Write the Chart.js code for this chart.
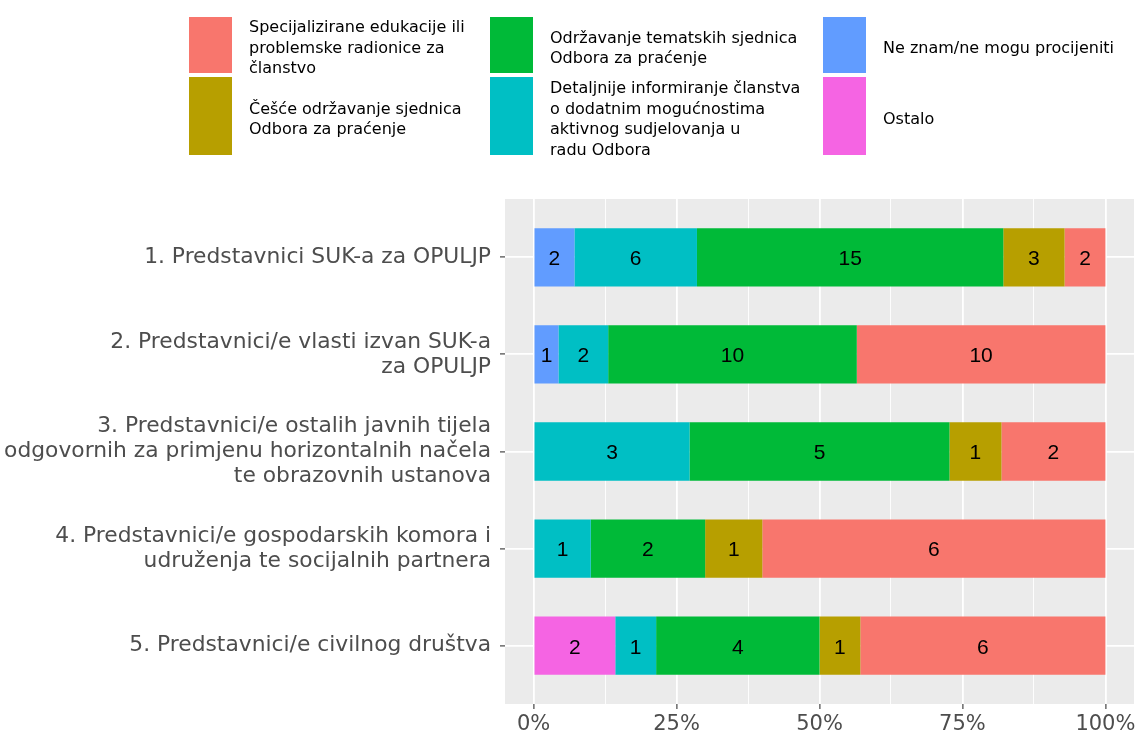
<!DOCTYPE html>
<html lang="hr">
<head>
<meta charset="utf-8">
<title>Prijedlozi za unapređenje rada Odbora</title>
<script src="https://cdn.jsdelivr.net/npm/chart.js@4.4.1/dist/chart.umd.min.js"></script>
<style>
    html, body { margin: 0; padding: 0; background: #fff; }
    #wrap { position: relative; width: 1140px; height: 740px; }
    #chart-box { position: absolute; left: 0; top: 0; width: 1140px; height: 740px; }
    #chart-legend {
        position: absolute; left: 0; top: 0; width: 1140px; height: 170px;
        font-family: 'DejaVu Sans', sans-serif; font-size: 16px; line-height: 20.5px; color: #000;
    }
    .legend-key { position: absolute; width: 43px; }
    .legend-text {
        position: absolute; display: flex; flex-direction: column; justify-content: center;
        white-space: nowrap;
    }
</style>
</head>
<body>
<div id="wrap">
    <div id="chart-box"><canvas id="chart"></canvas></div>
    <div id="chart-legend"></div>
</div>
<script>
// Categories (y axis), top to bottom
const categoryLabels = [
    ['1. Predstavnici SUK-a za OPULJP'],
    ['2. Predstavnici/e vlasti izvan SUK-a', 'za OPULJP'],
    ['3. Predstavnici/e ostalih javnih tijela', 'odgovornih za primjenu horizontalnih načela', 'te obrazovnih ustanova'],
    ['4. Predstavnici/e gospodarskih komora i', 'udruženja te socijalnih partnera'],
    ['5. Predstavnici/e civilnog društva']
];

// Series, in stacking order from left to right
const seriesNames = [
    ['Ostalo'],
    ['Ne znam/ne mogu procijeniti'],
    ['Detaljnije informiranje članstva', 'o dodatnim mogućnostima', 'aktivnog sudjelovanja u', 'radu Odbora'],
    ['Održavanje tematskih sjednica', 'Odbora za praćenje'],
    ['Češće održavanje sjednica', 'Odbora za praćenje'],
    ['Specijalizirane edukacije ili', 'problemske radionice za', 'članstvo']
];
const seriesColors = ['#F564E3', '#619CFF', '#00BFC4', '#00BA38', '#B79F00', '#F8766D'];

// Counts per category (one array per answer)
const ostalo = [0, 0, 0, 0, 2];
const neZnam = [2, 1, 0, 0, 0];
const detaljnije = [6, 2, 3, 1, 1];
const odrzavanje = [15, 10, 5, 2, 4];
const cesce = [3, 0, 1, 1, 1];
const specijalizirane = [2, 10, 2, 6, 6];
const seriesValues = [ostalo, neZnam, detaljnije, odrzavanje, cesce, specijalizirane];

// Legend order (ggplot, column by column) as indexes into the series
const legendOrder = [5, 4, 3, 2, 1, 0];

// x axis ticks (percent)
const xTicks = [0, 25, 50, 75, 100];
const xMinorTicks = [12.5, 37.5, 62.5, 87.5];

const FONT = 'DejaVu Sans';
const totals = categoryLabels.map((_, i) => seriesValues.reduce((s, arr) => s + arr[i], 0));
const isMajor = v => xTicks.includes(v);

function buildLegend() {
    const box = document.getElementById('chart-legend');
    const cols = [189, 490, 823];
    const rows = [{ top: 17, h: 56 }, { top: 77, h: 78 }];
    legendOrder.forEach((k, n) => {
        const col = Math.floor(n / 2), row = rows[n % 2];
        const key = document.createElement('div');
        key.className = 'legend-key';
        key.style.left = cols[col] + 'px';
        key.style.top = row.top + 'px';
        key.style.height = row.h + 'px';
        key.style.background = seriesColors[k];
        box.appendChild(key);

        const txt = document.createElement('div');
        txt.className = 'legend-text';
        txt.style.left = (cols[col] + 60) + 'px';
        txt.style.top = (row.top + 3) + 'px';
        txt.style.height = row.h + 'px';
        txt.innerHTML = '<div>' + seriesNames[k].join('<br>') + '</div>';
        box.appendChild(txt);
    });
}

// Grey ggplot panel behind grid lines
const panelBackground = {
    id: 'panelBackground',
    beforeDraw(chart) {
        const { ctx, chartArea: a } = chart;
        ctx.save();
        ctx.fillStyle = '#EBEBEB';
        ctx.fillRect(a.left, a.top, a.right - a.left, a.bottom - a.top);
        ctx.restore();
    }
};

// Count labels centred in each segment
const countLabels = {
    id: 'countLabels',
    afterDatasetsDraw(chart) {
        const ctx = chart.ctx;
        ctx.save();
        ctx.font = '21px "Liberation Sans"';
        ctx.fillStyle = '#000';
        ctx.textAlign = 'center';
        ctx.textBaseline = 'middle';
        chart.data.datasets.forEach((ds, k) => {
            chart.getDatasetMeta(k).data.forEach((bar, i) => {
                const n = ds.counts[i];
                if (!n) return;
                const p = bar.getCenterPoint();
                ctx.fillText(String(n), p.x, p.y + 2);
            });
        });
        ctx.restore();
    }
};

const datasets = seriesValues.map((vals, k) => ({
    label: seriesNames[k].join(' '),
    data: vals.map((v, i) => ({ x: v / totals[i] * 100, y: i + 1 })),
    counts: vals,
    backgroundColor: seriesColors[k],
    borderWidth: 0,
    barPercentage: 0.6,
    categoryPercentage: 1
}));

buildLegend();

new Chart(document.getElementById('chart'), {
    type: 'bar',
    data: { datasets },
    plugins: [panelBackground, countLabels],
    options: {
        indexAxis: 'y',
        responsive: true,
        maintainAspectRatio: false,
        animation: false,
        layout: { padding: { top: 199, right: 6, bottom: 0, left: 0 } },
        plugins: { legend: { display: false }, tooltip: { enabled: false } },
        scales: {
            x: {
                type: 'linear',
                stacked: true,
                min: -5,
                max: 105,
                afterBuildTicks: s => {
                    s.ticks = xTicks.concat(xMinorTicks).sort((a, b) => a - b).map(v => ({ value: v }));
                },
                afterFit: s => { s.height = 36; },
                border: { display: false },
                grid: {
                    color: '#FFFFFF',
                    lineWidth: c => isMajor(c.tick.value) ? 1.8 : 0.9,
                    tickLength: 5,
                    tickColor: c => isMajor(c.tick.value) ? '#333333' : 'rgba(0,0,0,0)',
                    tickWidth: 1.1
                },
                ticks: {
                    callback: v => isMajor(v) ? v + '%' : '',
                    color: '#4D4D4D',
                    font: { family: FONT, size: 21 },
                    padding: 3,
                    autoSkip: false,
                    maxRotation: 0
                }
            },
            y: {
                type: 'linear',
                stacked: true,
                reverse: true,
                min: 0.4,
                max: 5.6,
                offset: false,
                afterBuildTicks: s => {
                    s.ticks = categoryLabels.map((_, i) => ({ value: i + 1 }));
                },
                afterFit: s => { s.width = 505; },
                border: { display: false },
                grid: {
                    color: '#FFFFFF',
                    lineWidth: 1.8,
                    offset: false,
                    tickLength: 5,
                    tickColor: '#333333',
                    tickWidth: 1.1
                },
                ticks: {
                    callback: v => categoryLabels[Math.round(v) - 1],
                    color: '#4D4D4D',
                    font: { family: FONT, size: 21.8, lineHeight: '25px' },
                    padding: 9,
                    autoSkip: false
                }
            }
        }
    }
});
</script>
</body>
</html>
